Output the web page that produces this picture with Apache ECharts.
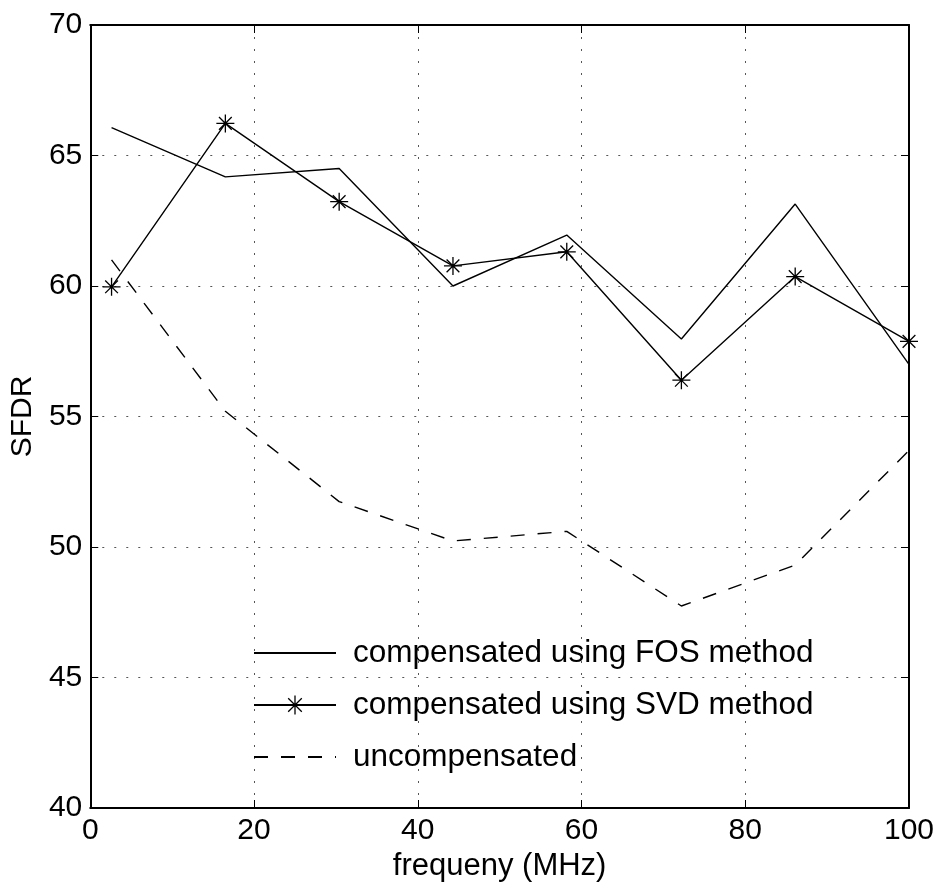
<!DOCTYPE html>
<html>
<head>
<meta charset="utf-8">
<script src="https://cdn.jsdelivr.net/npm/echarts@6/dist/echarts.min.js"></script>
<style>
html,body{margin:0;padding:0;background:#fff;}
#chart{width:940px;height:889px;}
</style>
</head>
<body>
<div id="chart"></div>
<script>
// ---- data ----
var freqMHz = [2.6, 16.5, 30.4, 44.3, 58.2, 72.2, 86.1, 100];
var fosSFDR = [66.07, 64.18, 64.5, 60.0, 61.95, 57.97, 63.14, 57.0];
var svdSFDR = [59.97, 66.23, 63.23, 60.77, 61.31, 56.39, 60.36, 57.88];
var uncompSFDR = [61.0, 55.2, 51.74, 50.23, 50.6, 47.74, 49.31, 53.7];
var seriesNames = ['compensated using FOS method', 'compensated using SVD method', 'uncompensated'];
var xTicks = [0, 20, 40, 60, 80, 100];
var yTicks = [40, 45, 50, 55, 60, 65, 70];

function pairs(xs, ys) { return xs.map(function (x, i) { return [x, ys[i]]; }); }

var FONT = '"Liberation Sans", Arial, Helvetica, sans-serif';
var asterisk = 'path://M0,8L16,8M8,0L8,16M2.34,2.34L13.66,13.66M13.66,2.34L2.34,13.66';
var gridDots = { color: '#555', width: 1, type: [2, 10] };

var chart = echarts.init(document.getElementById('chart'), null, { renderer: 'canvas' });
var option = {
  animation: false,
  backgroundColor: '#fff',
  grid: { left: 90, right: 31, top: 25, bottom: 81, containLabel: false },
  legend: {
    orient: 'vertical',
    left: 248,
    top: 632,
    itemWidth: 82,
    itemHeight: 24,
    itemGap: 20,
    data: [
      { name: seriesNames[0] },
      { name: seriesNames[1], itemStyle: { borderWidth: 1.3 } },
      { name: seriesNames[2] }
    ],
    textStyle: { fontFamily: FONT, fontSize: 31.5, color: '#000', padding: [0, 0, 0, 12], lineHeight: 30 }
  },
  xAxis: [{
    type: 'value', min: xTicks[0], max: xTicks[xTicks.length - 1], interval: xTicks[1] - xTicks[0],
    position: 'bottom',
    name: 'frequeny (MHz)', nameLocation: 'middle', nameGap: 38,
    nameTextStyle: { fontFamily: FONT, fontSize: 31, color: '#000' },
    axisLine: { show: true, onZero: false, lineStyle: { color: '#000', width: 2 } },
    axisTick: { show: true, inside: true, length: 8, lineStyle: { color: '#000', width: 1 } },
    axisLabel: { fontFamily: FONT, fontSize: 30, color: '#000', margin: 8 },
    splitLine: { show: true, lineStyle: gridDots }
  }, {
    type: 'value', min: xTicks[0], max: xTicks[xTicks.length - 1], interval: xTicks[1] - xTicks[0],
    position: 'top',
    axisLine: { show: true, onZero: false, lineStyle: { color: '#000', width: 2 } },
    axisTick: { show: true, inside: true, length: 8, lineStyle: { color: '#000', width: 1 } },
    axisLabel: { show: false },
    splitLine: { show: false }
  }],
  yAxis: [{
    type: 'value', min: yTicks[0], max: yTicks[yTicks.length - 1], interval: yTicks[1] - yTicks[0],
    position: 'left',
    name: 'SFDR', nameLocation: 'middle', nameGap: 47,
    nameTextStyle: { fontFamily: FONT, fontSize: 30, color: '#000' },
    axisLine: { show: true, onZero: false, lineStyle: { color: '#000', width: 2 } },
    axisTick: { show: true, inside: true, length: 8, lineStyle: { color: '#000', width: 1 } },
    axisLabel: { fontFamily: FONT, fontSize: 30, color: '#000', margin: 8 },
    splitLine: { show: true, lineStyle: gridDots }
  }, {
    type: 'value', min: yTicks[0], max: yTicks[yTicks.length - 1], interval: yTicks[1] - yTicks[0],
    position: 'right',
    axisLine: { show: true, onZero: false, lineStyle: { color: '#000', width: 2 } },
    axisTick: { show: true, inside: true, length: 8, lineStyle: { color: '#000', width: 1 } },
    axisLabel: { show: false },
    splitLine: { show: false }
  }],
  series: [{
    name: seriesNames[0], type: 'line', xAxisIndex: 0, yAxisIndex: 0,
    data: pairs(freqMHz, fosSFDR),
    showSymbol: false, symbol: 'circle',
    itemStyle: { color: 'rgba(0,0,0,0)', borderWidth: 0 },
    lineStyle: { color: '#000', width: 1.4, type: 'solid' },
    emphasis: { disabled: true }
  }, {
    name: seriesNames[1], type: 'line', xAxisIndex: 0, yAxisIndex: 0,
    data: pairs(freqMHz, svdSFDR),
    showSymbol: true, symbol: asterisk, symbolSize: 18,
    itemStyle: { color: '#000', borderColor: '#000', borderWidth: 1.3 },
    lineStyle: { color: '#000', width: 1.4, type: 'solid' },
    emphasis: { disabled: true }
  }, {
    name: seriesNames[2], type: 'line', xAxisIndex: 0, yAxisIndex: 0,
    data: pairs(freqMHz, uncompSFDR),
    showSymbol: false, symbol: 'circle',
    itemStyle: { color: 'rgba(0,0,0,0)', borderWidth: 0 },
    lineStyle: { color: '#000', width: 1.4, type: [14, 13] },
    emphasis: { disabled: true }
  }]
};
chart.setOption(option);
</script>
</body>
</html>
